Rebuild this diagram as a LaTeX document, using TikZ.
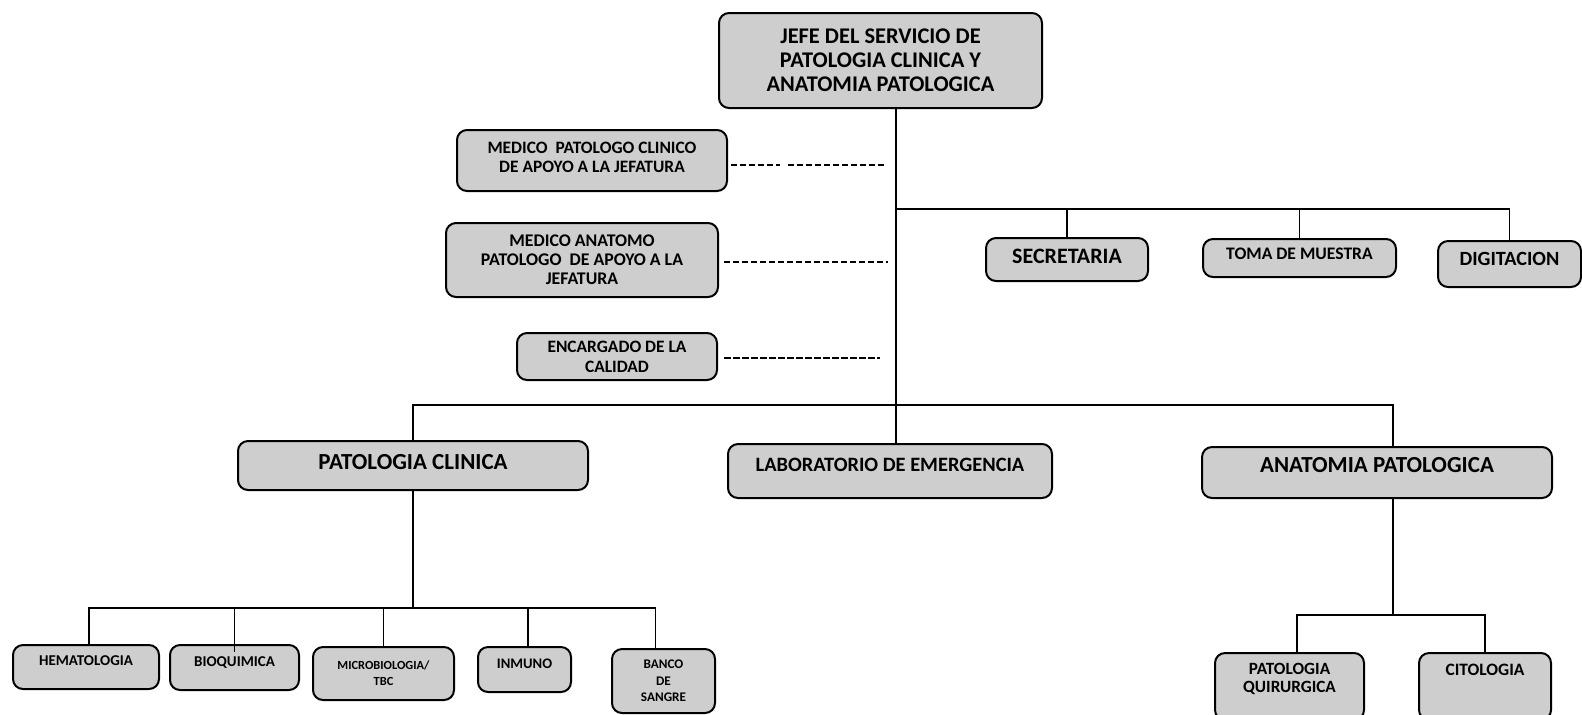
\documentclass[tikz,border=0pt]{standalone}
\usepackage{fontspec}
\setmainfont{Carlito}
\definecolor{boxgray}{RGB}{206,206,206}
\tikzset{
	box/.style={draw, line width=1pt, rounded corners=5pt, fill=boxgray, align=center, inner sep=2pt},
	conn/.style={line width=0.9pt},
	dashline/.style={line width=0.8pt, dash pattern=on 3pt off 1.5pt},
	fs/.style 2 args={font=\fontsize{#1}{#2}\selectfont\bfseries}}
\tikzset{every picture/.style={line width=0.75pt}}

\begin{document}
\begin{tikzpicture}[x=0.5pt,y=0.5pt,yscale=-1,xscale=1]
	\useasboundingbox (0,0) rectangle (1582,714);

	%Shape: Rounded Rect [jefe]
	\node[box, fs={11.2}{12}, minimum width=161.5pt, minimum height=47.5pt] (jefe) at (880.5,60.5) {JEFE DEL SERVICIO DE\\PATOLOGIA CLINICA Y\\ANATOMIA PATOLOGICA};
	%Shape: Rounded Rect [apoyo]
	\node[box, fs={8.7}{9.5}, text depth=3pt, minimum width=135pt, minimum height=30.5pt] (medpc) at (592,160.5) {MEDICO\ \ PATOLOGO CLINICO\\DE APOYO A LA JEFATURA};
	\node[box, fs={8.9}{9.6}, minimum width=136pt, minimum height=37pt] (medap) at (582,260) {MEDICO ANATOMO\\PATOLOGO\ \ DE APOYO A LA\\JEFATURA};
	\node[box, fs={8.7}{10}, minimum width=100pt, minimum height=23.5pt] (encar) at (617,356.5) {ENCARGADO DE LA\\CALIDAD};
	%Shape: Rounded Rect [staff]
	\node[box, fs={11}{12}, text depth=3pt, minimum width=81pt, minimum height=21.5pt] (secre) at (1067,259.5) {SECRETARIA};
	\node[box, fs={8.8}{10}, text depth=4pt, minimum width=96.5pt, minimum height=19pt] (toma) at (1299.5,258) {TOMA DE MUESTRA};
	\node[box, fs={10.1}{11}, text depth=5pt, minimum width=71.5pt, minimum height=23pt] (digit) at (1509.5,264) {DIGITACION};
	%Shape: Rounded Rect [areas]
	\node[box, fs={11.5}{13}, text depth=3.5pt, minimum width=175pt, minimum height=24.5pt] (patcl) at (413,465.5) {PATOLOGIA CLINICA};
	\node[box, fs={10.2}{12}, text depth=6pt, minimum width=162pt, minimum height=27pt] (lab) at (890,471) {LABORATORIO DE EMERGENCIA};
	\node[box, fs={11.5}{13}, text depth=7.5pt, minimum width=175pt, minimum height=25.5pt] (anat) at (1377,472.5) {ANATOMIA PATOLOGICA};
	%Shape: Rounded Rect [secciones]
	\node[box, fs={7.5}{9}, text depth=6pt, minimum width=73pt, minimum height=22pt] (hemat) at (86,667) {HEMATOLOGIA};
	\node[box, fs={7.5}{9}, text depth=5.5pt, minimum width=64.5pt, minimum height=22.5pt] (bioq) at (234.5,667.5) {BIOQUIMICA};
	\node[box, fs={6.2}{8}, minimum width=70.5pt, minimum height=26.5pt] (micro) at (383.5,673.5) {MICROBIOLOGIA/\\TBC};
	\node[box, fs={7.3}{9}, text depth=5.5pt, minimum width=46.5pt, minimum height=22.5pt] (inmun) at (524.5,669.5) {INMUNO};
	\node[box, fs={6.6}{8.3}, minimum width=51.5pt, minimum height=32pt] (banco) at (663.5,681) {BANCO\\DE\\SANGRE};
	\node[box, fs={8.6}{9}, text depth=9pt, minimum width=74.5pt, minimum height=33.5pt] (patq) at (1289.5,686.5) {PATOLOGIA\\QUIRURGICA};
	\node[box, fs={8.7}{10}, text depth=16.5pt, minimum width=66pt, minimum height=33.5pt] (cito) at (1485,686.5) {CITOLOGIA};

	% bus coordinates
	\coordinate (tr) at (896,0);
	\coordinate (busA) at (896,209);
	\coordinate (busB) at (0,405);
	\coordinate (busC) at (0,608);
	\coordinate (busD) at (0,615);
	\coordinate (dpcgap) at (780,165);
	\coordinate (dpc) at (887,165);
	\coordinate (dap) at (888,262);
	\coordinate (dca) at (880,358);

	%Straight Lines [trunk]
	\draw[conn] (jefe.south -| tr) -- (lab.north -| tr);
	\draw[conn] (busA) -| (digit.north);
	\draw[conn] (secre.north) -- (secre.north |- busA);
	\draw[conn] (toma.north) -- (toma.north |- busA);
	%Straight Lines [areas]
	\draw[conn] (patcl.north) |- (busB -| anat.north) -- ++(8pt,0) coordinate (anatd) -- (anatd |- anat.north);
	%Straight Lines [patologia clinica]
	\draw[conn] (patcl.south) -- (patcl.south |- busC);
	\draw[conn] ([xshift=1.5pt]hemat.north) |- ([xshift=-4pt]banco.north |- busC) -- ([xshift=-4pt]banco.north);
	\draw[conn] (bioq.north |- busC) -- ([yshift=4pt]bioq.north);
	\draw[conn] (micro.north) -- (micro.north |- busC);
	\draw[conn] ([xshift=1.75pt]inmun.north) -- ([xshift=1.75pt]inmun.north |- busC);
	%Straight Lines [anatomia patologica]
	\draw[conn] (anatd |- anat.south) -- (anatd |- busD);
	\draw[conn] ([xshift=3.75pt]patq.north) |- (cito.north |- busD) -- (cito.north);
	%Dashed Lines [apoyo]
	\draw[dashline] ([xshift=1.5pt]medpc.east |- dpc) -- (dpcgap);
	\draw[dashline] ([xshift=4pt]dpcgap) -- (dpc);
	\draw[dashline] ([xshift=2.5pt]medap.east |- dap) -- (dap);
	\draw[dashline, line width=1.1pt, dash pattern=on 3.5pt off 1pt] ([xshift=3pt]encar.east |- dca) -- (dca);

\end{tikzpicture}
\end{document}
